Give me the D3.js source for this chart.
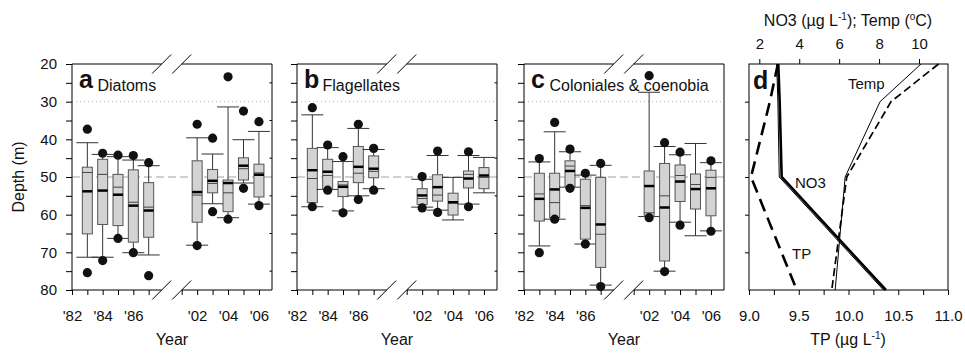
<!DOCTYPE html>
<html>
<head>
<meta charset="utf-8">
<script src="https://cdn.jsdelivr.net/npm/d3@7"></script>
<style>
body { margin: 0; background: #fff; }
text { font-family: "Liberation Sans", Arial, sans-serif; fill: #111; }
</style>
</head>
<body>
<script>
var w = 965, h = 356;

// box years and axis ticks
var years = [1983, 1984, 1985, 1986, 1987, 2002, 2003, 2004, 2005, 2006];
var tickYears = [1982, 1983, 1984, 1985, 1986, 1987, 2001, 2002, 2003, 2004, 2005, 2006];
var breakYears = [1987.85, 2001];
var depthTicks = [20, 25, 30, 35, 40, 45, 50, 55, 60, 65, 70, 75, 80];
var innerTicks = [25, 35, 45, 55, 65, 75];

// each row: [upper dot, upper whisker, box top, thin line, thick line, box bottom, lower whisker, lower dot]
var diatoms = [
    [37.3, 40.9, 47.4, 48.8, 53.8, 65.1, 71.3, 75.4],
    [43.7, 44.0, 45.3, 49.3, 53.6, 62.6, 71.3, 72.2],
    [44.2, 44.6, 49.3, 52.7, 54.7, 62.9, 66.3, 66.3],
    [44.3, 45.5, 48.1, 56.7, 57.6, 67.3, 70.1, 70.1],
    [46.2, 47.0, 51.5, 58.0, 58.9, 66.0, 70.7, 76.2],
    [36.0, 39.6, 45.7, 54.8, 54.0, 62.0, 68.1, 68.2],
    [39.7, 43.9, 48.0, 51.7, 51.0, 54.2, 57.1, 59.2],
    [23.4, 31.4, 50.8, 54.2, 51.6, 59.2, 60.8, 61.2],
    [32.5, 40.1, 44.9, 47.8, 47.0, 50.8, 51.6, 53.0],
    [35.3, 37.9, 46.6, 48.9, 49.4, 55.3, 57.2, 57.6]
];
var flagellates = [
    [31.6, 33.5, 42.4, 50.4, 48.2, 56.8, 57.9, 57.9],
    [41.5, 42.2, 45.3, 49.6, 48.6, 53.3, 53.3, 53.5],
    [44.6, 45.9, 51.2, 52.1, 52.6, 55.2, 59.0, 59.5],
    [36.0, 37.1, 41.9, 49.0, 47.3, 51.5, 55.0, 56.0],
    [42.4, 42.7, 44.4, 48.5, 47.8, 50.2, 53.1, 53.5],
    [49.9, 50.6, 53.1, 55.7, 54.9, 57.3, 58.0, 58.2],
    [43.1, 44.3, 49.4, 54.8, 52.7, 56.4, 58.8, 59.4],
    [null, 50.1, 54.3, 56.9, 56.7, 60.1, 61.4, null],
    [43.3, 44.3, 48.4, 49.3, 50.4, 52.9, 57.2, 57.9],
    [null, 44.8, 47.5, 50.1, 49.6, 53.1, 54.2, null]
];
var colonials = [
    [45.1, 46.0, 49.0, 54.5, 55.8, 61.7, 68.3, 70.1],
    [35.5, 38.0, 49.0, 56.8, 53.3, 60.8, 61.2, 61.2],
    [42.6, 43.3, 45.7, 47.1, 48.4, 52.6, 52.7, 53.0],
    [49.0, 49.5, 50.6, 57.6, 58.2, 66.5, 67.8, 67.8],
    [46.4, 46.9, 50.1, 65.2, 62.6, 74.0, 78.7, 79.1],
    [23.1, 27.5, 48.4, 59.5, 52.4, 60.4, 60.5, 60.8],
    [40.9, 41.9, 46.4, 55.0, 58.1, 72.3, 75.0, 75.1],
    [43.4, 44.1, 46.8, 49.6, 51.2, 56.5, 62.0, 62.8],
    [null, 41.1, 49.2, 52.0, 53.2, 58.5, 65.6, null],
    [45.7, 46.2, 48.2, 50.1, 53.0, 60.3, 64.3, 64.4]
];

// panel d profiles
var profileDepths = [20, 30, 50, 80];
var tempSolid = [10.1, 8.05, 6.3, 5.8];
var tempDashed = [10.98, 8.6, 6.38, 5.63];
var no3Thick = [2.95, 3.02, 3.12, 8.34];
var no3Thin = [2.87, 2.93, 3.0, 8.22];
var tp = [9.29, 9.21, 9.02, 9.48];
var topTicks = [2, 4, 6, 8, 10];
var tpTicks = [9, 9.25, 9.5, 9.75, 10, 10.25, 10.5, 10.75, 11];

var plotTop = 64, plotBottom = 290, pw = 200;

var svg = d3.select("body").append("svg")
    .attr("width", w)
    .attr("height", h);

var y = d3.scaleLinear().domain([20, 80]).range([plotTop, plotBottom]);

function frameLine(g, x1, y1, x2, y2) {
    g.append("line")
        .attr("x1", x1).attr("y1", y1).attr("x2", x2).attr("y2", y2)
        .attr("stroke", "#000").attr("stroke-width", 1);
}

function boxPanel(p) {
    var g = svg.append("g");
    var x = d3.scaleLinear()
        .domain([1982, breakYears[0], breakYears[1], 2007])
        .range([p.left, p.left + 89.7, p.left + 109.7, p.left + 202.4]);
    var right = p.left + pw;

    // reference depths
    g.append("line")
        .attr("x1", p.left).attr("x2", right)
        .attr("y1", y(30)).attr("y2", y(30))
        .attr("stroke", "#b5b5b5").attr("stroke-dasharray", "1,3");
    g.append("line")
        .attr("x1", p.left).attr("x2", right)
        .attr("y1", y(50)).attr("y2", y(50))
        .attr("stroke", "#a0a0a0").attr("stroke-dasharray", "8,4");

    // labels
    g.append("text").attr("x", p.left + 7).attr("y", 88)
        .style("font-size", "25px").style("font-weight", "bold").text(p.letter);
    g.append("text").attr("x", p.left + 25.5).attr("y", 91)
        .style("font-size", "16px").text(p.name);

    // axes
    g.append("g")
        .attr("transform", "translate(0," + plotBottom + ")")
        .call(d3.axisBottom(x).tickValues(tickYears).tickSize(5).tickPadding(15)
            .tickFormat(function (d) { return d % 2 === 0 ? "'" + String(d).slice(2) : ""; }))
        .call(function (a) {
            a.select(".domain").remove();
            a.selectAll("text").style("font-size", "15px").attr("fill", "#111");
        });
    g.append("g")
        .attr("transform", "translate(" + p.left + ",0)")
        .call(d3.axisLeft(y).tickValues(depthTicks).tickSize(6).tickPadding(9)
            .tickFormat(function (d) { return p.yLabels && d % 10 === 0 ? d : ""; }))
        .call(function (a) {
            a.select(".domain").remove();
            a.selectAll("text").style("font-size", "15px").attr("fill", "#111");
        });
    if (p.innerTicks) {
        g.selectAll(".rt").data(innerTicks).enter().append("line")
            .attr("x1", right - 2.5).attr("x2", right)
            .attr("y1", function (d) { return y(d); })
            .attr("y2", function (d) { return y(d); })
            .attr("stroke", "#000");
    }

    // frame with axis break
    var b1 = x(breakYears[0]), b2 = x(breakYears[1]);
    frameLine(g, p.left, plotTop, p.left, plotBottom);
    frameLine(g, right, plotTop, right, plotBottom);
    [plotTop, plotBottom].forEach(function (yy) {
        frameLine(g, p.left, yy, b1, yy);
        frameLine(g, b2, yy, right, yy);
        [b1, b2].forEach(function (bx) {
            frameLine(g, bx - 9.5, yy + 9.5, bx + 9.5, yy - 9.5);
        });
    });

    g.append("text").attr("x", p.left + pw / 2).attr("y", 345)
        .attr("text-anchor", "middle").style("font-size", "16px").text("Year");

    // boxes
    var boxes = g.selectAll(".box").data(p.stats).enter().append("g")
        .attr("transform", function (d, i) { return "translate(" + x(years[i]) + ",0)"; });
    boxes.append("line").attr("x1", 0).attr("x2", 0)
        .attr("y1", function (d) { return y(d[1]); })
        .attr("y2", function (d) { return y(d[2]); })
        .attr("stroke", "#333");
    boxes.append("line").attr("x1", 0).attr("x2", 0)
        .attr("y1", function (d) { return y(d[5]); })
        .attr("y2", function (d) { return y(d[6]); })
        .attr("stroke", "#333");
    [1, 6].forEach(function (k) {
        boxes.append("line").attr("x1", -11).attr("x2", 11)
            .attr("y1", function (d) { return y(d[k]); })
            .attr("y2", function (d) { return y(d[k]); })
            .attr("stroke", "#333");
    });
    boxes.append("rect")
        .attr("x", -5).attr("width", 10)
        .attr("y", function (d) { return y(d[2]); })
        .attr("height", function (d) { return y(d[5]) - y(d[2]); })
        .attr("fill", "#d3d3d3").attr("stroke", "#555");
    boxes.append("line").attr("x1", -5).attr("x2", 5)
        .attr("y1", function (d) { return y(d[3]); })
        .attr("y2", function (d) { return y(d[3]); })
        .attr("stroke", "#444").attr("stroke-width", 1);
    boxes.append("line").attr("x1", -5).attr("x2", 5)
        .attr("y1", function (d) { return y(d[4]); })
        .attr("y2", function (d) { return y(d[4]); })
        .attr("stroke", "#000").attr("stroke-width", 2.5);
    [0, 7].forEach(function (k) {
        boxes.filter(function (d) { return d[k] !== null; })
            .append("circle").attr("cx", 0)
            .attr("cy", function (d) { return y(d[k]); })
            .attr("r", 4.6).attr("fill", "#111");
    });
}

boxPanel({ left: 72, letter: "a", name: "Diatoms", stats: diatoms, yLabels: true, innerTicks: true });
boxPanel({ left: 297, letter: "b", name: "Flagellates", stats: flagellates, yLabels: false, innerTicks: true });
boxPanel({ left: 524, letter: "c", name: "Coloniales & coenobia", stats: colonials, yLabels: false, innerTicks: false });

svg.append("text")
    .attr("transform", "translate(24,177) rotate(-90)")
    .attr("text-anchor", "middle").style("font-size", "16px").text("Depth (m)");

// panel d
var dl = 749, dr = 948;
var xTop = d3.scaleLinear().domain([2, 10]).range([759.3, 919]);
var xTp = d3.scaleLinear().domain([9, 11]).range([dl, dr]);
var gd = svg.append("g");

gd.append("g").attr("transform", "translate(0," + plotTop + ")")
    .call(d3.axisTop(xTop).tickValues(topTicks).tickSize(5).tickPadding(10))
    .call(function (a) {
        a.select(".domain").remove();
        a.selectAll("text").style("font-size", "15px").attr("fill", "#111");
    });
gd.append("g").attr("transform", "translate(0," + plotBottom + ")")
    .call(d3.axisBottom(xTp).tickValues(tpTicks).tickSize(5).tickPadding(15)
        .tickFormat(function (d) { return (d * 2) % 1 === 0 ? d.toFixed(1) : ""; }))
    .call(function (a) {
        a.select(".domain").remove();
        a.selectAll("text").style("font-size", "15px").attr("fill", "#111");
    });
gd.append("g").attr("transform", "translate(" + dl + ",0)")
    .call(d3.axisLeft(y).tickValues([30, 40, 50, 60, 70]).tickSize(4).tickFormat(""))
    .call(function (a) { a.select(".domain").remove(); });

gd.append("rect").attr("x", dl).attr("y", plotTop)
    .attr("width", dr - dl).attr("height", plotBottom - plotTop)
    .attr("fill", "none").attr("stroke", "#000");

function profile(vals, sc, width, dash) {
    var line = d3.line()
        .x(function (d) { return sc(d); })
        .y(function (d, i) { return y(profileDepths[i]); });
    gd.append("path").datum(vals)
        .attr("d", line)
        .attr("fill", "none").attr("stroke", "#000")
        .attr("stroke-width", width)
        .attr("stroke-dasharray", dash);
}
profile(tempSolid, xTop, 1, null);
profile(tempDashed, xTop, 1.7, "8,4");
profile(no3Thin, xTop, 1, null);
profile(no3Thick, xTop, 2.6, null);
profile(tp, xTp, 2.6, "13,7");

gd.append("text").attr("x", 753).attr("y", 89)
    .style("font-size", "25px").style("font-weight", "bold").text("d");
gd.append("text").attr("x", 848).attr("y", 89).style("font-size", "15px").text("Temp");
gd.append("text").attr("x", 795).attr("y", 188).style("font-size", "15px").text("NO3");
gd.append("text").attr("x", 792).attr("y", 259).style("font-size", "15px").text("TP");

var tt = gd.append("text").attr("x", 848).attr("y", 26)
    .attr("text-anchor", "middle").style("font-size", "16px");
tt.append("tspan").text("NO3 (µg L");
tt.append("tspan").attr("dy", -6).style("font-size", "10px").text("-1");
tt.append("tspan").attr("dy", 6).text("); Temp (");
tt.append("tspan").attr("dy", -6).style("font-size", "10px").text("o");
tt.append("tspan").attr("dy", 6).text("C)");

var bt = gd.append("text").attr("x", 848).attr("y", 345)
    .attr("text-anchor", "middle").style("font-size", "16px");
bt.append("tspan").text("TP (µg L");
bt.append("tspan").attr("dy", -6).style("font-size", "10px").text("-1");
bt.append("tspan").attr("dy", 6).text(")");
</script>
</body>
</html>
